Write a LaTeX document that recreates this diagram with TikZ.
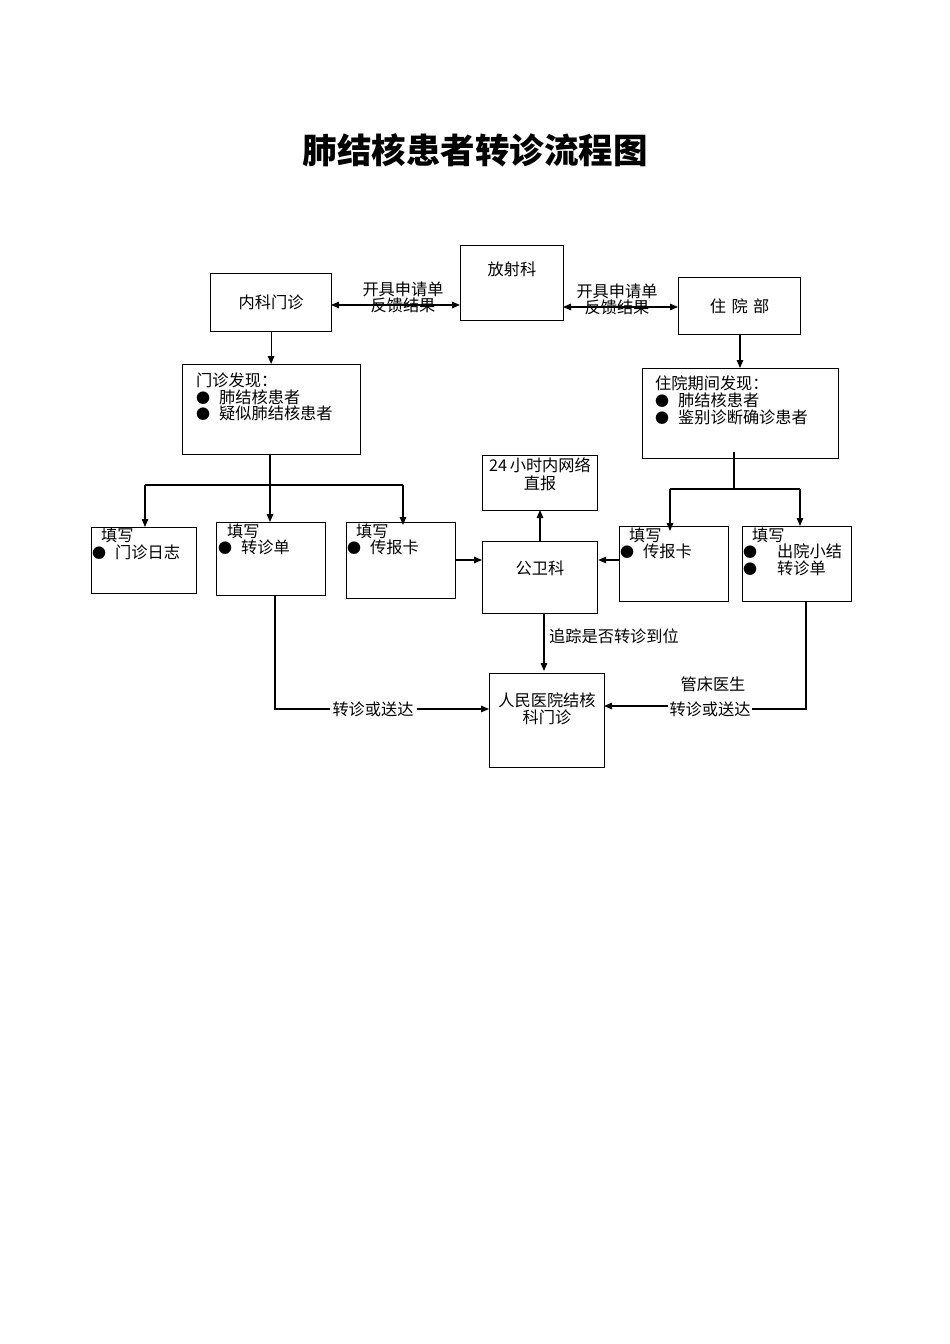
\documentclass[tikz,border=0pt]{standalone}
\usepackage{fontspec}
\newfontfamily\cjk{Noto Sans CJK SC}
\usetikzlibrary{arrows.meta}
\newcommand{\bul}{{\fontsize{14}{14}\selectfont ●}}
\begin{document}
\begin{tikzpicture}[x=1pt,y=-1pt,
  box/.style={draw, line width=1.2pt, anchor=north west, inner sep=0pt},
  txt/.style={font=\cjk\fontsize{16.2}{17}\selectfont, inner sep=0pt},
  wl/.style={txt, anchor=west},
  arr/.style={line width=1.1pt, -{Triangle[length=8pt,width=6.5pt]}},
  darr/.style={line width=1.1pt, {Triangle[length=8pt,width=6.5pt]}-{Triangle[length=8pt,width=6.5pt]}},
  ln/.style={line width=1.1pt}]
\useasboundingbox (0,0) rectangle (950,1344);
% title
\node[font=\cjk\bfseries\fontsize{34.5}{36}\selectfont, inner sep=0pt] (title) at (475,150) {肺结核患者转诊流程图};
% top row
\node[box, minimum width=121pt, minimum height=58pt] (nk) at (210,273) {};
\node[txt] (nkt) at (nk.center) {内科门诊};
\node[box, minimum width=103pt, minimum height=75pt] (fs) at (460,245) {};
\node[txt] (fst) at (512,269) {放射科};
\node[box, minimum width=122pt, minimum height=57pt] (zy) at (678,277) {};
\node[txt] (zyt) at (zy.center) {住\,\,院\,\,部};
% double arrows
\coordinate (a1) at (331,305);
\coordinate (a2) at (460,305);
\draw[darr] (a1) -- (a2);
\node[txt] (l1a) at (403,289) {开具申请单};
\node[txt] (l1b) at (403,305) {反馈结果};
\coordinate (b1) at (563,307);
\coordinate (b2) at (678,307);
\draw[darr] (b1) -- (b2);
\node[txt] (l2a) at (617,291) {开具申请单};
\node[txt] (l2b) at (617,307) {反馈结果};
% discovery boxes
\node[box, minimum width=178pt, minimum height=90pt] (mz) at (182,364) {};
\node[wl] (mz1) at (196,380) {门诊发现：};
\node[wl] (mz2) at (196,397) {\bul\hspace{9pt}肺结核患者};
\node[wl] (mz3) at (196,413) {\bul\hspace{9pt}疑似肺结核患者};
\draw[arr] (nk.south) -- (mz.north -| nk.south);
\node[box, minimum width=196pt, minimum height=90pt] (zq) at (642,368) {};
\node[wl] (zq1) at (655,383) {住院期间发现：};
\node[wl] (zq2) at (655,400) {\bul\hspace{9pt}肺结核患者};
\node[wl] (zq3) at (655,417) {\bul\hspace{9pt}鉴别诊断确诊患者};
\draw[arr] (740,334) -- (740,368);
% fill boxes
\node[box, minimum width=105pt, minimum height=66pt] (f1) at (91,527) {};
\node[wl] (f1a) at (101,535) {填写};
\node[wl] (f1b) at (92,552) {\bul\hspace{9pt}门诊日志};
\node[box, minimum width=109pt, minimum height=73pt] (f2) at (216,522) {};
\node[wl] (f2a) at (227,531) {填写};
\node[wl] (f2b) at (218,547) {\bul\hspace{9pt}转诊单};
\node[box, minimum width=109pt, minimum height=76pt] (f3) at (346,522) {};
\node[wl] (f3a) at (356,531) {填写};
\node[wl] (f3b) at (347,547) {\bul\hspace{9pt}传报卡};
\node[box, minimum width=115pt, minimum height=72pt] (gw) at (482,541) {};
\node[txt] (gwt) at (540,568) {公卫科};
\node[box, minimum width=115pt, minimum height=55pt] (zb) at (482,455) {};
\node[txt] (zb1) at (540,465) {24\,小时内网络};
\node[txt] (zb2) at (540,483) {直报};
\node[box, minimum width=109pt, minimum height=75pt] (f4) at (619,526) {};
\node[wl] (f4a) at (629,535) {填写};
\node[wl] (f4b) at (620,551) {\bul\hspace{9pt}传报卡};
\node[box, minimum width=109pt, minimum height=75pt] (f5) at (742,526) {};
\node[wl] (f5a) at (752,535) {填写};
\node[wl] (f5b) at (743,551) {\bul\hspace{20pt}出院小结};
\node[wl] (f5c) at (743,568) {\bul\hspace{20pt}转诊单};
% left tree
\coordinate (lj) at (270,485);
\draw[ln] (270,454) -- (lj);
\draw[ln] (145,485) -- (403,485);
\draw[arr] (145,485) -- (145,527);
\draw[arr] (lj) -- (270,522);
\draw[arr] (403,485) -- (403,525);
% right tree
\draw[ln] (734,452) -- (734,489);
\draw[ln] (670,489) -- (800,489);
\draw[arr] (670,489) -- (670,531);
\draw[arr] (800,489) -- (800,526);
% to public health
\draw[arr] (455,560) -- (gw.west |- 0,560);
\draw[arr] (619,560) -- (gw.east |- 0,560);
\draw[arr] (540,541) -- (540,510);
% hospital box
\node[box, minimum width=115pt, minimum height=94pt] (rm) at (489,673) {};
\node[txt] (rm1) at (547,700) {人民医院结核};
\node[txt] (rm2) at (547,717) {科门诊};
\draw[arr] (544,613) -- (544,671);
\node[wl] (zz) at (549,636) {追踪是否转诊到位};
% left path
\draw[ln] (275,595) -- (275,709) -- (330,709);
\node[txt, fill=white, inner xsep=3pt, inner ysep=1pt] (zs1) at (373,709) {转诊或送达};
\draw[arr] (zs1.east) -- (489,709);
% right path
\draw[ln] (806,601) -- (806,709) -- (752,709);
\node[txt, fill=white, inner xsep=1pt, inner ysep=1pt] (zs2) at (710,709) {转诊或送达};
\node[txt] (gc) at (713,684) {管床医生};
\draw[arr] (zs2.west |- 0,706) -- (604,706);
\end{tikzpicture}
\end{document}
